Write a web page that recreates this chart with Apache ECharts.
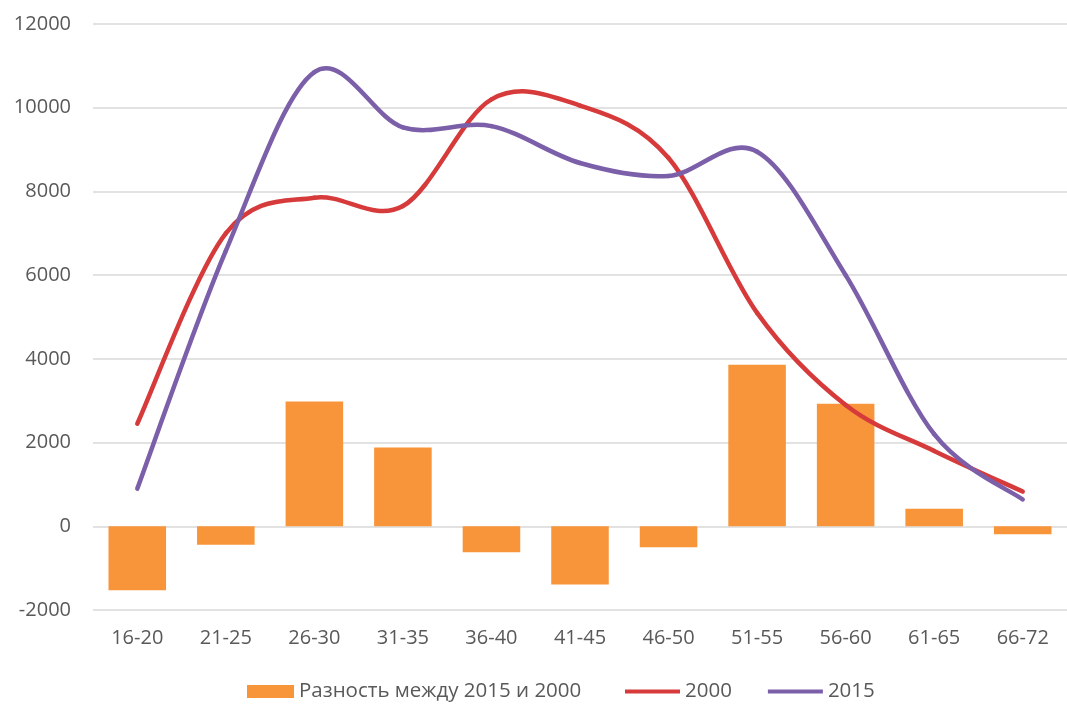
<!DOCTYPE html>
<html>
<head>
<meta charset="utf-8">
<script src="https://cdn.jsdelivr.net/npm/echarts@6/dist/echarts.min.js"></script>
<style>
  html, body { margin: 0; padding: 0; background: #ffffff; }
  #chart { width: 1067px; height: 709px; }
</style>
</head>
<body>
<div id="chart"></div>
<script>
// Age groups
const categories = ['16-20', '21-25', '26-30', '31-35', '36-40', '41-45', '46-50', '51-55', '56-60', '61-65', '66-72'];
// Difference between 2015 and 2000
const diffValues = [-1530, -440, 2980, 1880, -620, -1390, -500, 3860, 2930, 420, -190];
// Year 2000
const values2000 = [2450, 7000, 7850, 7650, 10200, 10050, 8800, 5100, 2900, 1800, 830];
// Year 2015
const values2015 = [900, 6580, 10850, 9530, 9560, 8680, 8370, 8950, 6000, 2200, 640];
// Value axis ticks
const yMin = -2000, yMax = 12000, yStep = 2000;

const labelFont = '"Open Sans", "Noto Sans", sans-serif';
const textGrey = '#595959';
const colorDiff = '#f8953a';
const color2000 = '#d63a3a';
const color2015 = '#7c5fa9';

// Smoothed line drawn segment by segment: each point draws a cubic
// Bezier to the next one with Catmull-Rom tangents (neighbour difference / 6).
function smoothLineRenderer(values, color) {
  return function (params, api) {
    const i = params.dataIndex;
    const n = values.length;
    if (i >= n - 1) return null;
    const pt = k => {
      const kk = Math.max(0, Math.min(n - 1, k));
      return api.coord([kk, values[kk]]);
    };
    const p0 = pt(i - 1), p1 = pt(i), p2 = pt(i + 1), p3 = pt(i + 2);
    return {
      type: 'bezierCurve',
      shape: {
        x1: p1[0], y1: p1[1],
        cpx1: p1[0] + (p2[0] - p0[0]) / 6, cpy1: p1[1] + (p2[1] - p0[1]) / 6,
        cpx2: p2[0] - (p3[0] - p1[0]) / 6, cpy2: p2[1] - (p3[1] - p1[1]) / 6,
        x2: p2[0], y2: p2[1]
      },
      style: { stroke: color, lineWidth: 4.5, fill: 'none', lineCap: 'round' },
      silent: true
    };
  };
}

const chart = echarts.init(document.getElementById('chart'), null, { renderer: 'canvas' });

chart.setOption({
  animation: false,
  backgroundColor: '#ffffff',
  grid: { left: 93, top: 24, width: 986, height: 586, containLabel: false },
  legend: [
    {
      left: 242,
      top: 676,
      itemWidth: 47,
      itemHeight: 13,
      textStyle: { fontFamily: labelFont, fontSize: 20.5, color: textGrey },
      data: [{ name: 'Разность между 2015 и 2000', icon: 'rect' }]
    },
    {
      left: 620,
      top: 676,
      itemWidth: 55,
      itemHeight: 4,
      itemGap: 36,
      icon: 'rect',
      textStyle: { fontFamily: labelFont, fontSize: 20.5, color: textGrey },
      data: ['2000', '2015']
    }
  ],
  xAxis: {
    type: 'category',
    data: categories,
    axisLine: { show: false, onZero: false },
    axisTick: { show: false },
    axisLabel: { margin: 18, fontFamily: labelFont, fontSize: 20, color: textGrey },
    splitLine: { show: false }
  },
  yAxis: {
    type: 'value',
    min: yMin,
    max: yMax,
    interval: yStep,
    axisLine: { show: false },
    axisTick: { show: false },
    axisLabel: {
      margin: 22,
      fontFamily: labelFont,
      fontSize: 20,
      color: textGrey,
      formatter: v => String(v)
    },
    splitLine: { lineStyle: { color: '#d9d9d9', width: 1.5 } }
  },
  series: [
    {
      name: 'Разность между 2015 и 2000',
      type: 'bar',
      data: diffValues,
      barCategoryGap: '35%',
      itemStyle: { color: colorDiff },
      z: 1
    },
    {
      name: '2000',
      type: 'custom',
      data: values2000.map((v, i) => [i, v]),
      encode: { x: 0, y: 1 },
      renderItem: smoothLineRenderer(values2000, color2000),
      itemStyle: { color: color2000 },
      z: 3
    },
    {
      name: '2015',
      type: 'custom',
      data: values2015.map((v, i) => [i, v]),
      encode: { x: 0, y: 1 },
      renderItem: smoothLineRenderer(values2015, color2015),
      itemStyle: { color: color2015 },
      z: 4
    }
  ]
});
</script>
</body>
</html>
